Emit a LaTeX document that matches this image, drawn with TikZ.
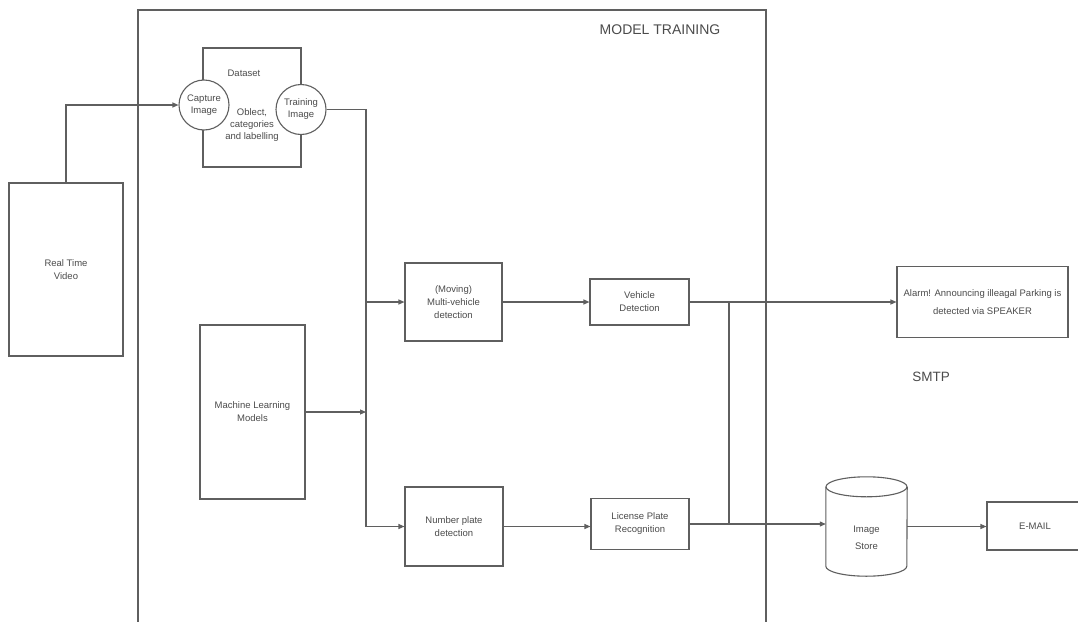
\documentclass[tikz,border=0pt]{standalone}
\usepackage{fontspec}
\setmainfont{Liberation Sans}
\usetikzlibrary{arrows.meta,calc}
\definecolor{ln}{RGB}{95,95,95}
\definecolor{tx}{RGB}{75,75,75}
\begin{document}
\begin{tikzpicture}[x=1pt,y=-1pt,
  box/.style={draw=ln,line width=1.1pt,rectangle,inner sep=0pt,align=center,text=tx,
     font=\fontsize{9.5}{13}\selectfont},
  circ/.style={draw=ln,line width=1.1pt,circle,fill=white,minimum size=50pt,inner sep=0pt,
     align=center,text=tx,font=\fontsize{9.5}{12}\selectfont},
  lbl/.style={text=tx,align=center,inner sep=0pt,font=\fontsize{9.5}{12}\selectfont},
  big/.style={text=tx,inner sep=0pt,font=\fontsize{14}{16}\selectfont},
  conn/.style={draw=ln,line width=1.1pt},
  arr/.style={conn,-{Triangle[length=6pt,width=5pt]}}]
\useasboundingbox[fill=white] (0,0) rectangle (1078,621);

% model training container
\node[draw=ln,line width=1.1pt,rectangle,inner sep=0pt,minimum width=628pt,minimum height=630pt] (mt) at (452,325) {};
\node[big] (mtl) at (660,30) {MODEL TRAINING};

% dataset
\node[box,minimum width=98pt,minimum height=119pt] (ds) at (252,107.5) {};
\node[lbl] (dsl) at (244,73) {Dataset};
\node[lbl] (obj) at (252,125) {Oblect,\\categories\\and labelling};
\node[circ] (cap) at (204,105) {Capture\\Image};
\node[circ] (train) at (301,109.5) {Training\\Image};

% left boxes
\node[box,minimum width=114pt,minimum height=173pt] (rtv) at (66,269.5) {Real Time\\Video};
\node[box,minimum width=105pt,minimum height=174pt] (ml) at (252.5,412) {Machine Learning\\Models};

% processing boxes
\node[box,minimum width=97pt,minimum height=78pt] (multi) at (453.5,302) {(Moving)\\Multi-vehicle\\detection};
\node[box,minimum width=99pt,minimum height=46pt] (veh) at (639.5,302) {Vehicle\\Detection};
\node[box,minimum width=98pt,minimum height=79pt] (np) at (454,526.5) {Number plate\\detection};
\node[box,minimum width=98pt,minimum height=51pt] (lpr) at (640,524) {License Plate\\Recognition};

% right side
\node[box,minimum width=171pt,minimum height=71pt,font=\fontsize{9.5}{18}\selectfont] (alarm) at (982.5,302) {Alarm! Announcing illeagal Parking is\\detected via SPEAKER};
\node[big,font=\fontsize{13.5}{16}\selectfont] (smtp) at (931,377) {SMTP};

\node[rectangle,inner sep=0pt,minimum width=81pt,minimum height=99pt] (store) at (866.5,526.5) {};
\draw[ln,line width=1.1pt] ($(store.north west)+(0,10)$) -- ($(store.south west)+(0,-10)$)
   arc[start angle=180,end angle=360,x radius=40.5pt,y radius=10pt] -- ($(store.north east)+(0,10)$);
\draw[ln,line width=1.1pt] ($(store.north)+(0,10)$) ellipse[x radius=40.5pt,y radius=10pt];
\node[lbl,font=\fontsize{9.5}{17}\selectfont] (storel) at (866.5,537.5) {Image\\Store};

\node[box,minimum width=96pt,minimum height=48pt] (email) at (1035,526) {E-MAIL};

% connectors
\coordinate (j1) at (366,109.5);
\coordinate (j2) at (729,302);
\draw[arr] (rtv.north) |- (cap.west);
\draw[arr] (train.east) -- (j1) |- (np.west);
\draw[arr] (j1 |- multi.west) -- (multi.west);
\draw[arr] (ml.east) -- (ml.east -| j1);
\draw[arr] (multi.east) -- (veh.west);
\draw[arr] (np.east) -- (np.east -| lpr.west);
\draw[arr] (veh.east) -- (alarm.west);
\draw[conn] (j2) -- (j2 |- lpr.east);
\draw[arr] (lpr.east) -- (lpr.east -| store.west);
\draw[arr] (store.east) -- (store.east -| email.west);
\end{tikzpicture}
\end{document}
